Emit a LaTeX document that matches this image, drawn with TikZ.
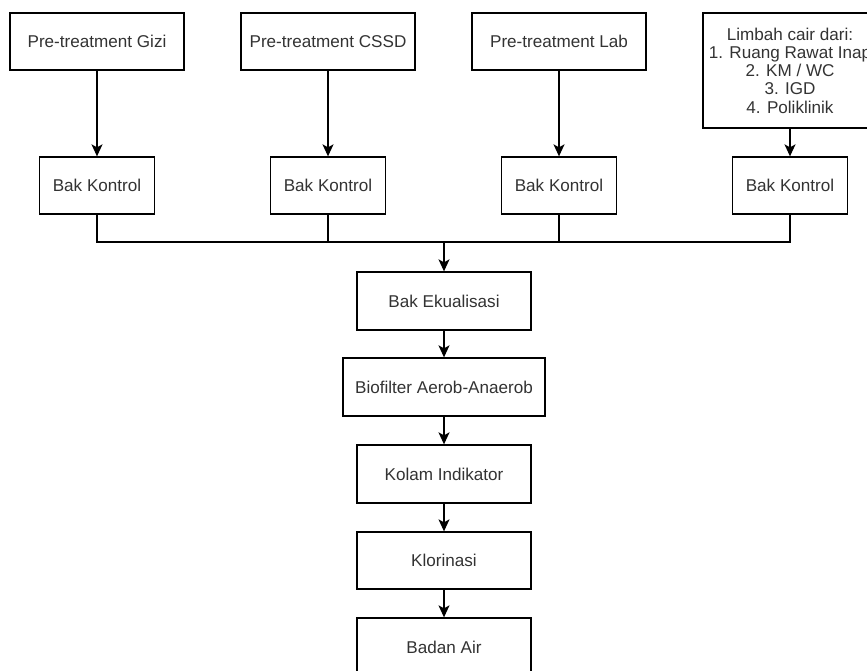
\documentclass[tikz,border=0pt]{standalone}
\usepackage{fontspec}
\setmainfont{Liberation Sans}
\usetikzlibrary{arrows.meta}
\begin{document}
\begin{tikzpicture}[x=1pt,y=-1pt,
  box/.style={draw,line width=1.3pt,fill=white,text=black!80,align=center,
    font=\fontsize{17.1}{18.2}\selectfont,inner sep=0pt},
  topbox/.style={box,minimum width=174pt,minimum height=57pt},
  kontrol/.style={box,minimum width=115pt,minimum height=57pt},
  midbox/.style={box,minimum width=174pt,minimum height=58pt},
  pipe/.style={line width=1.3pt},
  arr/.style={pipe,-{Stealth[length=12pt,width=11pt,inset=3pt]}}]
 \clip (0,0) rectangle (867,671);
 \fill[white] (0,0) rectangle (867,671);
 % sumber limbah
 \node[topbox] (gizi) at (97,41.5) {Pre-treatment Gizi};
 \node[topbox] (cssd) at (328,41.5) {Pre-treatment CSSD};
 \node[topbox] (lab) at (559,41.5) {Pre-treatment Lab};
 \node[topbox,minimum height=115pt] (cair) at (790,70.5) {Limbah cair dari:\\1. Ruang Rawat Inap\\2. KM / WC\\3. IGD\\4. Poliklinik};
 % bak kontrol
 \node[kontrol] (k1) at (97,185.5) {Bak Kontrol};
 \node[kontrol] (k2) at (328,185.5) {Bak Kontrol};
 \node[kontrol] (k3) at (559,185.5) {Bak Kontrol};
 \node[kontrol] (k4) at (790,185.5) {Bak Kontrol};
 % pengolahan
 \coordinate (bus) at (444,242);
 \node[midbox] (eq) at (444,301) {Bak Ekualisasi};
 \node[midbox,minimum width=202pt] (bio) at (444,387) {Biofilter Aerob-Anaerob};
 \node[midbox] (ind) at (444,474) {Kolam Indikator};
 \node[midbox,minimum height=57pt] (klor) at (444,560.5) {Klorinasi};
 \node[midbox] (air) at (444,647) {Badan Air};
 \draw[arr] (gizi) -- (k1);
 \draw[arr] (cssd) -- (k2);
 \draw[arr] (lab) -- (k3);
 \draw[arr] (cair) -- (k4);
 \draw[pipe] (k1) |- (bus) -| (k4);
 \draw[pipe] (k2) -- (k2 |- bus);
 \draw[pipe] (k3) -- (k3 |- bus);
 \draw[arr] (bus) -- (eq);
 \draw[arr] (eq) -- (bio);
 \draw[arr] (bio) -- (ind);
 \draw[arr] (ind) -- (klor);
 \draw[arr] (klor) -- (air);
\end{tikzpicture}
\end{document}
